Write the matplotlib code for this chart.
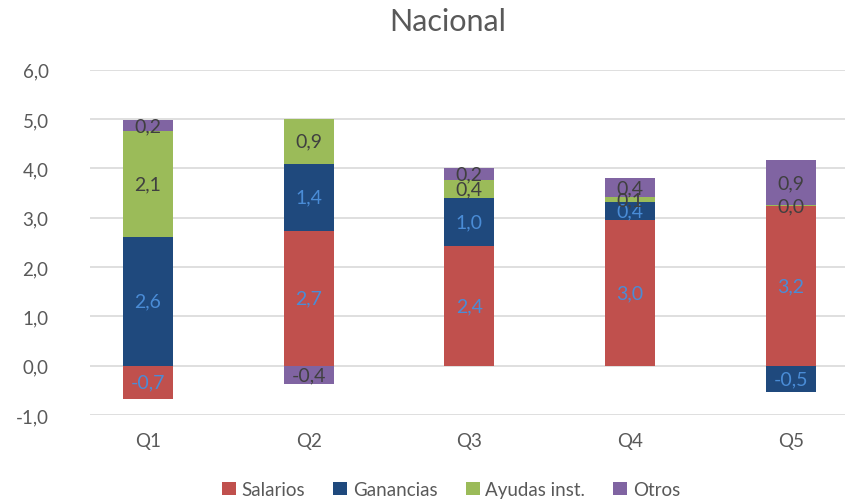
import matplotlib
matplotlib.use("Agg")
import matplotlib.pyplot as plt
import numpy as np

plt.rcParams['font.family'] = ['Lato', 'DejaVu Sans']

categories = ["Q1", "Q2", "Q3", "Q4", "Q5"]
series_names = ["Salarios", "Ganancias", "Ayudas inst.", "Otros"]
salarios = [-0.67, 2.74, 2.43, 2.96, 3.24]
ganancias = [2.62, 1.36, 0.97, 0.36, -0.53]
ayudas = [2.13, 0.91, 0.37, 0.10, 0.02]
otros = [0.24, -0.37, 0.24, 0.39, 0.91]

colors = ["#C0504D", "#1F497D", "#9BBB59", "#8064A2"]
label_colors = ["#4A8CD6", "#4A8CD6", "#404040", "#404040"]

fig = plt.figure(figsize=(8.59, 5.02), dpi=100)
ax = fig.add_axes([0.105, 0.171, 0.879, 0.688])

x = np.arange(len(categories))
width = 0.31
pos_base = np.zeros(len(categories))
neg_base = np.zeros(len(categories))

for name, vals, col, lcol in zip(series_names, [salarios, ganancias, ayudas, otros],
                                 colors, label_colors):
    vals = np.array(vals)
    bottoms = np.where(vals >= 0, pos_base, neg_base)
    ax.bar(x, vals, width, bottom=bottoms, color=col, label=name, zorder=3)
    for xi, b, v in zip(x, bottoms, vals):
        txt = f"{v:.1f}".replace(".", ",")
        ax.text(xi, b + v / 2, txt, ha="center", va="center", fontsize=14,
                color=lcol, zorder=4)
    pos_base = pos_base + np.where(vals >= 0, vals, 0)
    neg_base = neg_base + np.where(vals < 0, vals, 0)

ax.set_ylim(-1, 6)
ax.set_xlim(-0.36, 4.34)
ax.set_yticks(np.arange(-1, 7, 1))
ax.set_yticklabels([f"{t:.1f}".replace(".", ",") for t in np.arange(-1, 7, 1)])
ax.set_xticks(x)
ax.set_xticklabels(categories)
ax.grid(axis="y", color="#D9D9D9", linewidth=1.2, zorder=0)
for s in ax.spines.values():
    s.set_visible(False)
ax.tick_params(axis="both", length=0, labelsize=13.5, colors="#595959")
ax.tick_params(axis="y", pad=30)
ax.tick_params(axis="x", pad=12)

fig.text(0.5215, 0.956, "Nacional", fontsize=22, color="#595959",
         ha="center", va="center")

ax.legend(loc="center", bbox_to_anchor=(0.478, -0.215), ncol=4, frameon=False,
          fontsize=13.5, labelcolor="#595959", handlelength=0.75, handleheight=0.75,
          handletextpad=0.3, columnspacing=1.5)

fig.savefig("out.png", dpi=100)
